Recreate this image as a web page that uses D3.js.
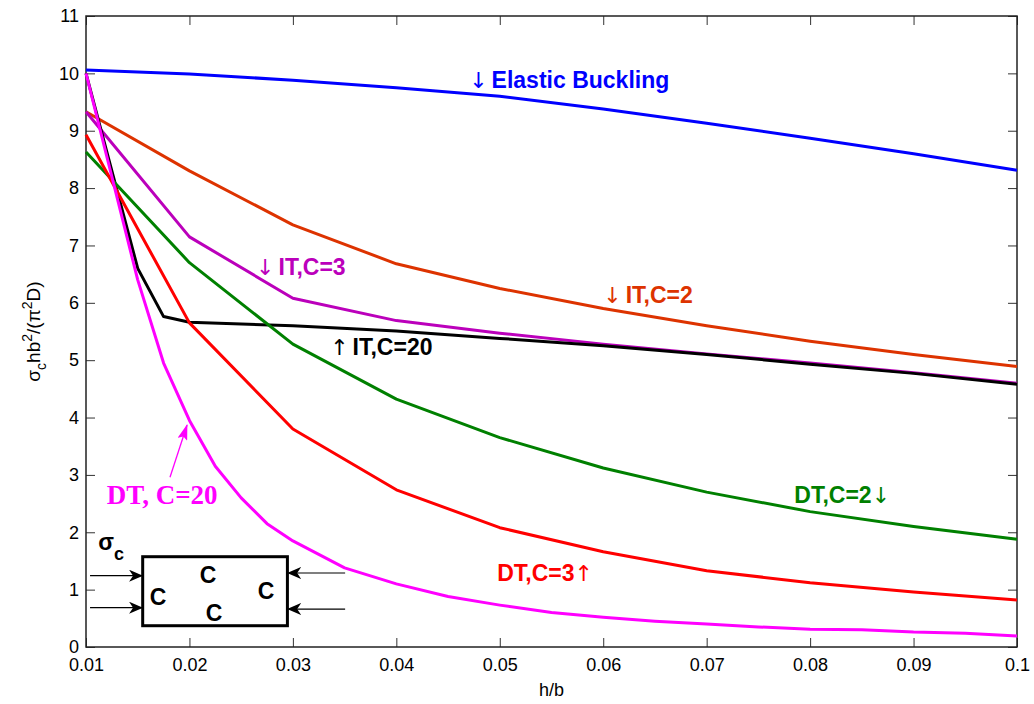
<!DOCTYPE html>
<html>
<head>
<meta charset="utf-8">
<script src="https://cdn.jsdelivr.net/npm/d3@7"></script>
<style>
  body { margin: 0; background: #fff; }
  text { font-family: "Liberation Sans", Arial, Helvetica, sans-serif; }
</style>
</head>
<body>
<script>
// h/b values and the curves
var hb = [0.01, 0.02, 0.03, 0.04, 0.05, 0.06, 0.07, 0.08, 0.09, 0.1];
var elastic = [10.06, 9.99, 9.88, 9.75, 9.6, 9.38, 9.13, 8.87, 8.6, 8.31];
var itC2 = [9.33, 8.30, 7.36, 6.68, 6.25, 5.9, 5.6, 5.33, 5.1, 4.89];
var itC3 = [9.33, 7.15, 6.08, 5.69, 5.47, 5.28, 5.11, 4.95, 4.78, 4.6];
var dtC2 = [8.63, 6.7, 5.28, 4.32, 3.65, 3.12, 2.7, 2.36, 2.1, 1.88];
var dtC3 = [8.93, 5.65, 3.8, 2.74, 2.08, 1.66, 1.33, 1.12, 0.96, 0.82];

var hb20 = [0.01, 0.015, 0.0175, 0.02, 0.03, 0.04, 0.05, 0.06, 0.07, 0.08, 0.09, 0.1];
var itC20 = [10.0, 6.6, 5.76, 5.66, 5.6, 5.51, 5.38, 5.25, 5.1, 4.93, 4.77, 4.58];

var hbDt20 = [0.01, 0.015, 0.0175, 0.02, 0.0225, 0.025, 0.0275, 0.03, 0.035, 0.04, 0.045,
              0.05, 0.055, 0.06, 0.065, 0.07, 0.075, 0.08, 0.085, 0.09, 0.095, 0.1];
var dtC20 = [10.0, 6.4, 4.95, 3.95, 3.15, 2.6, 2.15, 1.85, 1.38, 1.1, 0.88,
             0.73, 0.6, 0.52, 0.45, 0.4, 0.35, 0.31, 0.3, 0.26, 0.24, 0.19];

var xTicks = [0.01, 0.02, 0.03, 0.04, 0.05, 0.06, 0.07, 0.08, 0.09, 0.1];
var xTickLabels = ["0.01", "0.02", "0.03", "0.04", "0.05", "0.06", "0.07", "0.08", "0.09", "0.1"];
var yTicks = [0, 1, 2, 3, 4, 5, 6, 7, 8, 9, 10, 11];

var series = [
  { name: "Elastic", x: hb, y: elastic, color: "#0000ff" },
  { name: "IT,C=2", x: hb, y: itC2, color: "#dd3300" },
  { name: "IT,C=3", x: hb, y: itC3, color: "#bb00bb" },
  { name: "IT,C=20", x: hb20, y: itC20, color: "#000000" },
  { name: "DT,C=2", x: hb, y: dtC2, color: "#008000" },
  { name: "DT,C=3", x: hb, y: dtC3, color: "#ff0000" },
  { name: "DT,C=20", x: hbDt20, y: dtC20, color: "#ff00ff" }
];

var W = 1034, H = 704;
var margin = { left: 86, right: 1017, top: 16, bottom: 647 };

var svg = d3.select("body").append("svg")
    .attr("width", W)
    .attr("height", H);

var defs = svg.append("defs");
defs.append("marker")
    .attr("id", "head")
    .attr("viewBox", "0 -6 14 12")
    .attr("refX", 13).attr("refY", 0)
    .attr("markerWidth", 14).attr("markerHeight", 12)
    .attr("markerUnits", "userSpaceOnUse")
    .attr("orient", "auto")
    .append("path")
    .attr("d", "M0,-6L14,0L0,6L4,0Z")
    .attr("fill", "#000");
defs.append("marker")
    .attr("id", "headM")
    .attr("viewBox", "0 -5 16 10")
    .attr("refX", 15).attr("refY", 0)
    .attr("markerWidth", 16).attr("markerHeight", 10)
    .attr("markerUnits", "userSpaceOnUse")
    .attr("orient", "auto")
    .append("path")
    .attr("d", "M0,-5L16,0L0,5L3,0Z")
    .attr("fill", "#ff00ff");

var x = d3.scaleLinear().domain([0.01, 0.1]).range([margin.left, margin.right]);
var y = d3.scaleLinear().domain([0, 11]).range([margin.bottom, margin.top]);

// axes, MATLAB style: ticks pointing in on all four sides
svg.append("g")
    .attr("transform", "translate(0," + margin.bottom + ")")
    .call(d3.axisBottom(x).tickValues(xTicks).tickSizeInner(-9).tickSizeOuter(0).tickPadding(11)
      .tickFormat(function (d, i) { return xTickLabels[i]; }))
    .call(function (g) { g.select(".domain").remove(); })
    .selectAll("text").attr("font-size", 18).attr("fill", "#000")
      .style("font-family", "'Liberation Sans', Arial, sans-serif");

svg.append("g")
    .attr("transform", "translate(" + margin.left + ",0)")
    .call(d3.axisLeft(y).tickValues(yTicks).tickSizeInner(-9).tickSizeOuter(0).tickPadding(7))
    .call(function (g) { g.select(".domain").remove(); })
    .selectAll("text").attr("font-size", 18).attr("fill", "#000")
      .style("font-family", "'Liberation Sans', Arial, sans-serif");

svg.append("g")
    .attr("transform", "translate(0," + margin.top + ")")
    .call(d3.axisTop(x).tickValues(xTicks).tickSizeInner(-9).tickSizeOuter(0).tickFormat(""))
    .call(function (g) { g.select(".domain").remove(); });

svg.append("g")
    .attr("transform", "translate(" + margin.right + ",0)")
    .call(d3.axisRight(y).tickValues(yTicks).tickSizeInner(-9).tickSizeOuter(0).tickFormat(""))
    .call(function (g) { g.select(".domain").remove(); });

svg.selectAll(".tick line").attr("stroke", "#333");

svg.append("rect")
    .attr("x", margin.left).attr("y", margin.top)
    .attr("width", margin.right - margin.left).attr("height", margin.bottom - margin.top)
    .attr("fill", "none")
    .attr("stroke", "#222")
    .attr("stroke-width", 1.5);

// curves
var line = d3.line()
    .x(function (d) { return x(d[0]); })
    .y(function (d) { return y(d[1]); });

svg.append("g").selectAll("path")
    .data(series)
    .enter().append("path")
    .attr("d", function (s) { return line(s.x.map(function (v, i) { return [v, s.y[i]]; })); })
    .attr("fill", "none")
    .attr("stroke", function (s) { return s.color; })
    .attr("stroke-width", 3)
    .attr("stroke-linejoin", "round");

// curve labels: arrow before (pre) or after (post) the bold text
var labels = [
  { pre: "\u2193", t: "Elastic Buckling", post: "", hx: 0.04704, v: 9.745, c: "#0000ff" },
  { pre: "\u2193", t: "IT,C=3", post: "", hx: 0.02644, v: 6.485, c: "#bb00bb" },
  { pre: "\u2191", t: "IT,C=20", post: "", hx: 0.0336, v: 5.09, c: "#000000" },
  { pre: "\u2193", t: "IT,C=2", post: "", hx: 0.06, v: 6.0, c: "#dd3300" },
  { pre: "", t: "DT,C=2", post: "\u2193", hx: 0.07847, v: 2.51, c: "#008000" },
  { pre: "", t: "DT,C=3", post: "\u2191", hx: 0.04975, v: 1.15, c: "#ff0000" }
];

var lab = svg.append("g").selectAll("text")
    .data(labels)
    .enter().append("text")
    .attr("x", function (d) { return x(d.hx); })
    .attr("y", function (d) { return y(d.v); })
    .attr("fill", function (d) { return d.c; })
    .attr("font-size", 23)
    .attr("font-weight", "bold");

lab.append("tspan")
    .style("font-family", "'DejaVu Sans', sans-serif")
    .attr("font-weight", "normal")
    .attr("font-size", 22)
    .text(function (d) { return d.pre; });
lab.append("tspan")
    .attr("dx", function (d) { return d.pre ? 4 : 0; })
    .text(function (d) { return d.t; });
lab.append("tspan")
    .style("font-family", "'DejaVu Sans', sans-serif")
    .attr("font-weight", "normal")
    .attr("font-size", 22)
    .text(function (d) { return d.post; });

svg.append("text")
    .attr("x", x(0.012)).attr("y", y(2.49))
    .attr("fill", "#ff00ff")
    .attr("font-size", 27)
    .attr("font-weight", "bold")
    .style("font-family", "'Liberation Serif', 'Times New Roman', serif")
    .text("DT, C=20");

svg.append("line")
    .attr("x1", x(0.01812)).attr("y1", y(2.96))
    .attr("x2", x(0.01977)).attr("y2", y(3.87))
    .attr("stroke", "#ff00ff")
    .attr("stroke-width", 1.3)
    .attr("marker-end", "url(#headM)");

// inset sketch of the loaded plate
var inset = svg.append("g");
inset.append("rect")
    .attr("x", x(0.01548)).attr("y", y(1.574))
    .attr("width", x(0.02947) - x(0.01548))
    .attr("height", y(0.371) - y(1.574))
    .attr("fill", "none")
    .attr("stroke", "#000")
    .attr("stroke-width", 3);

var cMarks = [[0.0218, 1.11], [0.01696, 0.727], [0.02741, 0.837], [0.02238, 0.448]];
inset.selectAll("text.c")
    .data(cMarks)
    .enter().append("text")
    .attr("class", "c")
    .attr("x", function (d) { return x(d[0]); })
    .attr("y", function (d) { return y(d[1]); })
    .attr("text-anchor", "middle")
    .attr("font-size", 23)
    .attr("font-weight", "bold")
    .text("C");

var arrows = [
  [0.01039, 1.243, 0.01542, 1.243],
  [0.01039, 0.685, 0.01542, 0.685],
  [0.03505, 1.29, 0.02954, 1.29],
  [0.03505, 0.662, 0.02954, 0.662]
];
inset.selectAll("line")
    .data(arrows)
    .enter().append("line")
    .attr("x1", function (d) { return x(d[0]); })
    .attr("y1", function (d) { return y(d[1]); })
    .attr("x2", function (d) { return x(d[2]); })
    .attr("y2", function (d) { return y(d[3]); })
    .attr("stroke", "#000")
    .attr("stroke-width", 1.2)
    .attr("marker-end", "url(#head)");

var sig = inset.append("text")
    .attr("x", x(0.01119)).attr("y", y(1.691))
    .attr("font-size", 23)
    .attr("font-weight", "bold");
sig.append("tspan").text("\u03c3");
sig.append("tspan").attr("dy", 10).attr("font-size", 18).text("c");

// axis titles
svg.append("text")
    .attr("x", (margin.left + margin.right) / 2).attr("y", 696)
    .attr("text-anchor", "middle")
    .attr("font-size", 18)
    .text("h/b");

var yl = svg.append("text")
    .attr("transform", "translate(40," + ((margin.top + margin.bottom) / 2) + ") rotate(-90)")
    .attr("text-anchor", "middle")
    .attr("font-size", 19);
yl.append("tspan").text("\u03c3");
yl.append("tspan").attr("dy", 6).attr("font-size", 14).text("c");
yl.append("tspan").attr("dy", -6).text("hb");
yl.append("tspan").attr("dy", -8).attr("font-size", 14).text("2");
yl.append("tspan").attr("dy", 8).text("/(\u03c0");
yl.append("tspan").attr("dy", -8).attr("font-size", 14).text("2");
yl.append("tspan").attr("dy", 8).text("D)");
</script>
</body>
</html>
